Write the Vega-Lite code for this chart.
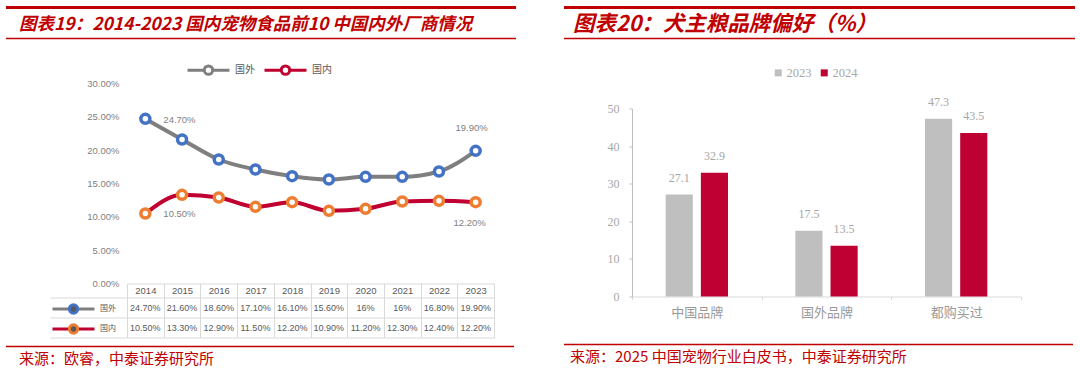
{
  "$schema": "https://vega.github.io/schema/vega-lite/v6.json",
  "background": "white",
  "padding": {"left": 4, "top": 5.5, "right": 2, "bottom": 2},
  "config": {"view": {"stroke": null}, "font": "Noto Sans CJK SC"},
  "datasets": {
    "share": [
      {"year": "2014", "series": "国外", "value": 0.247, "label": "24.70%"},
      {"year": "2015", "series": "国外", "value": 0.216, "label": "21.60%"},
      {"year": "2016", "series": "国外", "value": 0.186, "label": "18.60%"},
      {"year": "2017", "series": "国外", "value": 0.171, "label": "17.10%"},
      {"year": "2018", "series": "国外", "value": 0.161, "label": "16.10%"},
      {"year": "2019", "series": "国外", "value": 0.156, "label": "15.60%"},
      {"year": "2020", "series": "国外", "value": 0.16, "label": "16%"},
      {"year": "2021", "series": "国外", "value": 0.16, "label": "16%"},
      {"year": "2022", "series": "国外", "value": 0.168, "label": "16.80%"},
      {"year": "2023", "series": "国外", "value": 0.199, "label": "19.90%"},
      {"year": "2014", "series": "国内", "value": 0.105, "label": "10.50%"},
      {"year": "2015", "series": "国内", "value": 0.133, "label": "13.30%"},
      {"year": "2016", "series": "国内", "value": 0.129, "label": "12.90%"},
      {"year": "2017", "series": "国内", "value": 0.115, "label": "11.50%"},
      {"year": "2018", "series": "国内", "value": 0.122, "label": "12.20%"},
      {"year": "2019", "series": "国内", "value": 0.109, "label": "10.90%"},
      {"year": "2020", "series": "国内", "value": 0.112, "label": "11.20%"},
      {"year": "2021", "series": "国内", "value": 0.123, "label": "12.30%"},
      {"year": "2022", "series": "国内", "value": 0.124, "label": "12.40%"},
      {"year": "2023", "series": "国内", "value": 0.122, "label": "12.20%"}
    ],
    "brand": [
      {"brand": "中国品牌", "year": "2023", "value": 27.1},
      {"brand": "中国品牌", "year": "2024", "value": 32.9},
      {"brand": "国外品牌", "year": "2023", "value": 17.5},
      {"brand": "国外品牌", "year": "2024", "value": 13.5},
      {"brand": "都购买过", "year": "2023", "value": 47.3},
      {"brand": "都购买过", "year": "2024", "value": 43.5}
    ]
  },
  "hconcat": [
    {
      "vconcat": [
        {
          "width": 510, "height": 31,
          "data": {"values": [{"t": "图表19：2014-2023 国内宠物食品前10 中国内外厂商情况"}]},
          "layer": [
            {"mark": {"type": "rule", "color": "#C00000", "strokeWidth": 3},
             "encoding": {"y": {"datum": 1, "type": "quantitative", "scale": {"domain": [0, 1], "nice": false}, "axis": null}}},
            {"mark": {"type": "rule", "color": "#C00000", "strokeWidth": 1.5},
             "encoding": {"y": {"datum": 0, "type": "quantitative", "axis": null}}},
            {"mark": {"type": "text", "align": "left", "baseline": "middle", "dx": 13, "font": "Noto Sans CJK SC", "fontSize": 17.5, "fontWeight": "bold", "fontStyle": "italic", "color": "#C00000"},
             "encoding": {"text": {"field": "t"}, "x": {"datum": 0, "type": "quantitative", "scale": {"domain": [0, 1]}, "axis": null}, "y": {"datum": 0.45, "type": "quantitative", "axis": null}}}
          ]
        },
        {
          "concat": [
            {"width": 121, "height": 1, "data": {"values": []}, "mark": "point"},
            {
              "width": 367, "height": 200,
              "data": {"name": "share"},
              "encoding": {
                "x": {"field": "year", "type": "ordinal",
                      "scale": {"type": "band", "paddingInner": 0, "paddingOuter": 0},
                      "axis": {"title": null, "orient": "bottom", "domain": true, "domainColor": "#D9D9D9", "ticks": true, "tickBand": "extent", "tickSize": 14, "tickColor": "#D9D9D9", "labelPadding": -12, "labelBaseline": "top", "labelFont": "Liberation Sans", "labelFontSize": 9.5, "labelColor": "#595959", "labelAngle": 0, "grid": false}},
                "y": {"field": "value", "type": "quantitative", "scale": {"domain": [0, 0.3], "nice": false},
                      "axis": {"title": null, "values": [0, 0.05, 0.1, 0.15, 0.2, 0.25, 0.3], "format": ".2%", "domain": false, "ticks": false, "grid": false, "labelPadding": 8, "labelFont": "Liberation Sans", "labelFontSize": 9.5, "labelColor": "#7F7F7F"}}
              },
              "layer": [
                {"mark": {"type": "line", "interpolate": "monotone", "strokeWidth": 4},
                 "encoding": {"color": {"field": "series", "type": "nominal", "scale": {"domain": ["国外", "国内"], "range": ["#7F7F7F", "#C00030"]},
                   "legend": {"orient": "none", "legendX": 57, "legendY": -38, "padding": 17, "direction": "horizontal", "title": null,
                     "symbolType": "M-3.5,0L-0.7,0M0.7,0L3.5,0M0.7,0A0.7,0.7,0,1,1,-0.7,0A0.7,0.7,0,1,1,0.7,0Z",
                     "symbolSize": 144, "symbolStrokeWidth": 3, "labelOffset": 19, "columnPadding": 3,
                     "labelFont": "Noto Sans CJK SC", "labelFontSize": 10, "labelColor": "#595959",
                     "encode": {"symbols": {"update": {"fill": {"value": "white"}, "strokeWidth": {"value": 3},
                       "stroke": {"signal": "datum.value === '国外' ? {gradient: 'linear', x1: 0, y1: 0, x2: 1, y2: 0, stops: [{offset: 0, color: '#7F7F7F'}, {offset: 0.365, color: '#7F7F7F'}, {offset: 0.365, color: '#4472C4'}, {offset: 0.635, color: '#4472C4'}, {offset: 0.635, color: '#7F7F7F'}, {offset: 1, color: '#7F7F7F'}]} : {gradient: 'linear', x1: 0, y1: 0, x2: 1, y2: 0, stops: [{offset: 0, color: '#C00030'}, {offset: 0.365, color: '#C00030'}, {offset: 0.365, color: '#ED7D31'}, {offset: 0.635, color: '#ED7D31'}, {offset: 0.635, color: '#C00030'}, {offset: 1, color: '#C00030'}]}"}}}}}}}},
                {"mark": {"type": "point", "shape": "circle", "size": 81, "filled": true, "fill": "white", "fillOpacity": 1, "strokeWidth": 3.5, "opacity": 1},
                 "encoding": {"stroke": {"field": "series", "type": "nominal", "scale": {"domain": ["国外", "国内"], "range": ["#4472C4", "#ED7D31"]}, "legend": null}}},
                {"transform": [{"filter": "datum.year == '2014' && datum.series == '国外'"}],
                 "mark": {"type": "text", "align": "left", "baseline": "middle", "dx": 18, "dy": 1, "font": "Liberation Sans", "fontSize": 9.5, "color": "#7F7F7F"},
                 "encoding": {"text": {"field": "label"}}},
                {"transform": [{"filter": "datum.year == '2014' && datum.series == '国内'"}],
                 "mark": {"type": "text", "align": "left", "baseline": "middle", "dx": 18, "dy": 0, "font": "Liberation Sans", "fontSize": 9.5, "color": "#7F7F7F"},
                 "encoding": {"text": {"field": "label"}}},
                {"transform": [{"filter": "datum.year == '2023' && datum.series == '国外'"}],
                 "mark": {"type": "text", "align": "center", "baseline": "middle", "dx": -4, "dy": -23, "font": "Liberation Sans", "fontSize": 9.5, "color": "#7F7F7F"},
                 "encoding": {"text": {"field": "label"}}},
                {"transform": [{"filter": "datum.year == '2023' && datum.series == '国内'"}],
                 "mark": {"type": "text", "align": "center", "baseline": "middle", "dx": -6, "dy": 21, "font": "Liberation Sans", "fontSize": 9.5, "color": "#7F7F7F"},
                 "encoding": {"text": {"field": "label"}}}
              ]
            },
            {"width": 121, "height": 1, "data": {"values": []}, "mark": "point"},
            {
              "width": 367, "height": 40,
              "data": {"name": "share"},
              "mark": {"type": "text", "font": "Liberation Sans", "fontSize": 9, "baseline": "middle"},
              "encoding": {
                "x": {"field": "year", "type": "ordinal", "scale": {"type": "band", "paddingInner": 0, "paddingOuter": 0},
                      "axis": {"orient": "top", "title": null, "labels": false, "ticks": false, "domain": false, "grid": true, "gridColor": "#D9D9D9", "tickBand": "extent"}},
                "y": {"field": "series", "type": "nominal", "sort": ["国外", "国内"], "scale": {"type": "band", "paddingInner": 0, "paddingOuter": 0},
                      "axis": {"title": null, "labels": false, "domain": true, "domainColor": "#D9D9D9", "ticks": true, "tickBand": "extent", "tickSize": 77, "tickColor": "#D9D9D9", "grid": true, "gridColor": "#D9D9D9"}},
                "text": {"field": "label"},
                "color": {"field": "series", "type": "nominal", "scale": {"domain": ["国外", "国内"], "range": ["#595959", "#595959"]},
                  "legend": {"orient": "none", "legendX": -61, "legendY": 4, "direction": "vertical", "title": null,
                    "symbolType": "M-3.5,0L-0.7,0M0.7,0L3.5,0M0.7,0A0.7,0.7,0,1,1,-0.7,0A0.7,0.7,0,1,1,0.7,0Z",
                    "symbolSize": 144, "symbolStrokeWidth": 3, "labelOffset": 19, "rowPadding": -1,
                    "labelFont": "Noto Sans CJK SC", "labelFontSize": 8, "labelColor": "#595959",
                    "encode": {"symbols": {"update": {"fill": {"value": "white"}, "strokeWidth": {"value": 3},
                      "stroke": {"signal": "datum.value === '国外' ? {gradient: 'linear', x1: 0, y1: 0, x2: 1, y2: 0, stops: [{offset: 0, color: '#7F7F7F'}, {offset: 0.365, color: '#7F7F7F'}, {offset: 0.365, color: '#4472C4'}, {offset: 0.635, color: '#4472C4'}, {offset: 0.635, color: '#7F7F7F'}, {offset: 1, color: '#7F7F7F'}]} : {gradient: 'linear', x1: 0, y1: 0, x2: 1, y2: 0, stops: [{offset: 0, color: '#C00030'}, {offset: 0.365, color: '#C00030'}, {offset: 0.365, color: '#ED7D31'}, {offset: 0.635, color: '#ED7D31'}, {offset: 0.635, color: '#C00030'}, {offset: 1, color: '#C00030'}]}"}}}}}}
              }
            }
          ],
          "columns": 2,
          "align": "each",
          "spacing": {"row": 14, "column": 0},
          "bounds": "flush",
          "resolve": {"scale": {"color": "independent"}}
        },
        {
          "width": 508, "height": 22,
          "data": {"values": [{"t": "来源：欧睿，中泰证券研究所"}]},
          "layer": [
            {"mark": {"type": "rule", "color": "#C00000", "strokeWidth": 1.5},
             "encoding": {"y": {"datum": 1, "type": "quantitative", "scale": {"domain": [0, 1], "nice": false}, "axis": null}}},
            {"mark": {"type": "text", "align": "left", "baseline": "middle", "dx": 13, "font": "Noto Sans CJK SC", "fontSize": 15, "color": "#C00000"},
             "encoding": {"text": {"field": "t"}, "x": {"datum": 0, "type": "quantitative", "scale": {"domain": [0, 1]}, "axis": null}, "y": {"datum": 0.45, "type": "quantitative", "axis": null}}}
          ]
        }
      ],
      "spacing": 6,
      "resolve": {"scale": {"color": "independent"}}
    },
    {
      "vconcat": [
        {
          "width": 511, "height": 31,
          "data": {"values": [{"t": "图表20：犬主粮品牌偏好（%）"}]},
          "layer": [
            {"mark": {"type": "rule", "color": "#C00000", "strokeWidth": 3},
             "encoding": {"y": {"datum": 1, "type": "quantitative", "scale": {"domain": [0, 1], "nice": false}, "axis": null}}},
            {"mark": {"type": "rule", "color": "#C00000", "strokeWidth": 1.5},
             "encoding": {"y": {"datum": 0, "type": "quantitative", "axis": null}}},
            {"mark": {"type": "text", "align": "left", "baseline": "middle", "dx": 9, "font": "Noto Sans CJK SC", "fontSize": 21.5, "fontWeight": "bold", "fontStyle": "italic", "color": "#C00000"},
             "encoding": {"text": {"field": "t"}, "x": {"datum": 0, "type": "quantitative", "scale": {"domain": [0, 1]}, "axis": null}, "y": {"datum": 0.45, "type": "quantitative", "axis": null}}}
          ]
        },
        {
          "hconcat": [
            {"width": 68, "height": 1, "data": {"values": []}, "mark": "point"},
            {
              "width": 389, "height": 188,
              "data": {"name": "brand"},
              "encoding": {
                "x": {"field": "brand", "type": "nominal", "sort": ["中国品牌", "国外品牌", "都购买过"],
                      "scale": {"paddingInner": 0, "paddingOuter": 0},
                      "axis": {"title": null, "labelAngle": 0, "domain": true, "domainColor": "#D9D9D9", "ticks": true, "tickBand": "extent", "tickSize": 3, "tickColor": "#D9D9D9", "labelPadding": 7, "labelFont": "Noto Sans CJK SC", "labelFontSize": 13, "labelColor": "#9A9A9A"}},
                "xOffset": {"field": "year", "type": "nominal", "scale": {"paddingInner": 0.229, "paddingOuter": 0.957}},
                "y": {"field": "value", "type": "quantitative", "scale": {"domain": [0, 50], "nice": false},
                      "axis": {"title": null, "values": [0, 10, 20, 30, 40, 50], "grid": false, "domain": true, "domainColor": "#BFBFBF", "ticks": true, "tickSize": 3, "tickColor": "#BFBFBF", "labelPadding": 10, "labelFont": "Liberation Serif", "labelFontSize": 12, "labelColor": "#A6A6A6"}}
              },
              "layer": [
                {"mark": {"type": "bar"},
                 "encoding": {"color": {"field": "year", "type": "nominal", "scale": {"domain": ["2023", "2024"], "range": ["#BFBFBF", "#BE0032"]},
                   "legend": {"orient": "none", "legendX": 137, "legendY": -45, "padding": 3, "direction": "horizontal", "title": null,
                     "symbolType": "square", "symbolSize": 49, "labelOffset": 2, "columnPadding": 6,
                     "labelFont": "Liberation Serif", "labelFontSize": 12.5, "labelColor": "#A6A6A6"}}}},
                {"mark": {"type": "text", "baseline": "middle", "dy": -17, "font": "Liberation Serif", "fontSize": 12, "color": "#A6A6A6"},
                 "encoding": {"text": {"field": "value", "type": "quantitative", "format": ".1f"}}}
              ]
            }
          ],
          "spacing": 0,
          "bounds": "flush",
          "resolve": {"scale": {"color": "independent"}}
        },
        {
          "width": 509, "height": 22,
          "data": {"values": [{"t": "来源：2025 中国宠物行业白皮书，中泰证券研究所"}]},
          "layer": [
            {"mark": {"type": "rule", "color": "#C00000", "strokeWidth": 1.5},
             "encoding": {"y": {"datum": 1, "type": "quantitative", "scale": {"domain": [0, 1], "nice": false}, "axis": null}}},
            {"mark": {"type": "text", "align": "left", "baseline": "middle", "dx": 6, "font": "Noto Sans CJK SC", "fontSize": 15, "color": "#C00000"},
             "encoding": {"text": {"field": "t"}, "x": {"datum": 0, "type": "quantitative", "scale": {"domain": [0, 1]}, "axis": null}, "y": {"datum": 0.45, "type": "quantitative", "axis": null}}}
          ]
        }
      ],
      "spacing": 24,
      "resolve": {"scale": {"color": "independent"}}
    }
  ],
  "spacing": 44,
  "resolve": {"scale": {"color": "independent"}}
}
